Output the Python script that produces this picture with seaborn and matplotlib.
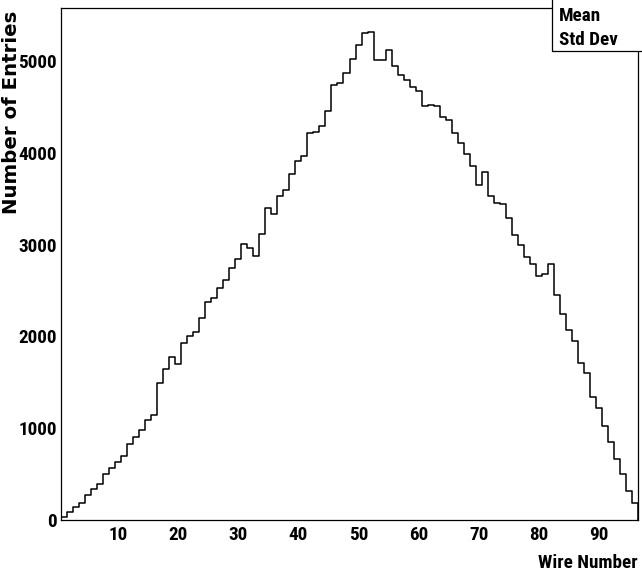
import numpy as np
import pandas as pd
import seaborn as sns
import matplotlib
matplotlib.use("Agg")
import matplotlib.pyplot as plt
from matplotlib.patches import Rectangle
from matplotlib.ticker import MultipleLocator
from matplotlib import font_manager
from matplotlib.font_manager import FontProperties
from matplotlib.textpath import TextPath

# Wire-by-wire hit counts (wires 1..96)
wires = list(range(1, 97))
counts = [
    36, 91, 138, 189, 273, 336, 392, 500, 563, 636,
    698, 825, 908, 981, 1090, 1145, 1496, 1645, 1772, 1696,
    1931, 2004, 2051, 2197, 2378, 2422, 2531, 2614, 2748, 2843,
    3003, 2966, 2879, 3119, 3395, 3340, 3533, 3599, 3770, 3912,
    3962, 4213, 4228, 4297, 4453, 4737, 4762, 4871, 5027, 5176,
    5303, 5314, 5016, 5016, 5122, 4943, 4845, 4798, 4714, 4678,
    4511, 4522, 4507, 4392, 4356, 4213, 4105, 3985, 3853, 3646,
    3795, 3526, 3460, 3446, 3290, 3108, 3002, 2871, 2788, 2661,
    2683, 2788, 2454, 2243, 2072, 1952, 1716, 1600, 1345, 1225,
    1029, 847, 662, 498, 316, 182,
]
x_ticks = [10, 20, 30, 40, 50, 60, 70, 80, 90]
y_ticks = [0, 1000, 2000, 3000, 4000, 5000]
x_title = "Wire Number"
y_title = "Number of Entries"
stats_labels = ["Mean", "Std Dev"]

sns.set_style("white")
plt.rcParams["font.family"] = ["Liberation Sans", "DejaVu Sans"]
plt.rcParams["text.color"] = "black"


def pick_condensed_bold():
    """Find a narrow/condensed bold sans face, falling back to Liberation Sans Bold."""
    prefs = ["liberation sans narrow", "roboto condensed", "noto sans",
             "open sans", "dejavu sans"]
    found = []
    for f in font_manager.fontManager.ttflist:
        fname = f.fname.lower()
        narrowish = ("narrow" in fname or "condensed" in fname
                     or f.stretch in ("condensed", "semi-condensed"))
        if not narrowish or "extra" in fname or "ultra" in fname or "semi" in fname:
            continue
        if "italic" in fname or "oblique" in fname:
            continue
        w = f.weight if isinstance(f.weight, int) else 400
        if w < 600 and "bold" not in fname:
            continue
        name = f.name.lower()
        rank = next((i for i, p in enumerate(prefs) if name.startswith(p)), len(prefs))
        found.append((rank, f.fname))
    if found:
        found.sort()
        return FontProperties(fname=found[0][1])
    return FontProperties(family="Liberation Sans", weight="bold")


def ink(prop, text):
    ext = TextPath((0, 0), text, size=10, prop=prop).get_extents()
    return ext.width, ext.height


def px_to_pt(px):
    return px * 72 / 100


lab_fp = pick_condensed_bold()
w10, h10 = ink(lab_fp, "5000")
tick_size = min(10 * px_to_pt(14) / h10, 10 * px_to_pt(38) / w10)

title_fp = FontProperties(family="DejaVu Sans", weight="bold")
tw10, _ = ink(title_fp, y_title)
ytitle_size = min(10 * px_to_pt(200) / tw10, 15)

df = pd.DataFrame({"wire": wires, "entries": counts})
lo, hi = wires[0] - 0.5, wires[-1] + 0.5

W, H = 642, 580
fig = plt.figure(figsize=(W / 100, H / 100), dpi=100)
ax = fig.add_axes([61 / W, 60 / H, (638 - 61) / W, (520 - 8) / H])

sns.histplot(data=df, x="wire", weights="entries", binwidth=1, binrange=(lo, hi),
             element="step", fill=False, color="black", linewidth=1.1, ax=ax)
# close the outline down to the baseline at both ends
ax.vlines([lo, hi], 0, [counts[0], counts[-1]], color="black", linewidth=1.1)

ax.set_xlim(lo, hi)
ax.set_ylim(0, max(counts) * 1.05)

ax.set_xticks(x_ticks)
ax.set_yticks(y_ticks)
ax.xaxis.set_minor_locator(MultipleLocator(2))
ax.yaxis.set_minor_locator(MultipleLocator(200))
ax.tick_params(axis="x", which="major", direction="in", length=10, width=0.9,
               color="#444444", labelcolor="black", pad=4)
ax.tick_params(axis="x", which="minor", direction="in", length=5, width=0.9,
               color="#444444")
ax.tick_params(axis="y", which="major", direction="in", length=13, width=0.9,
               color="#444444", labelcolor="black", pad=3)
ax.tick_params(axis="y", which="minor", direction="in", length=6.5, width=0.9,
               color="#444444")
for lab in ax.get_xticklabels() + ax.get_yticklabels():
    lab.set_fontproperties(lab_fp)
    lab.set_fontsize(tick_size)

for s in ax.spines.values():
    s.set_visible(True)
    s.set_color("black")
    s.set_linewidth(0.9)

ax.set_xlabel("")
ax.set_ylabel("")
fig.text(638 / W, 1 - 568 / H, x_title, ha="right", va="baseline",
         fontproperties=lab_fp, fontsize=tick_size)
fig.text(17 / W, 1 - 11 / H, y_title, ha="right", va="baseline", rotation=90,
         rotation_mode="anchor", fontproperties=title_fp, fontsize=ytitle_size)

# statistics box in the upper right corner
fig.patches.append(Rectangle((552 / W, 1 - 51 / H), 100 / W, 60 / H,
                             transform=fig.transFigure, facecolor="white",
                             edgecolor="black", linewidth=0.9, zorder=5))
for i, lab in enumerate(stats_labels):
    fig.text(559 / W, 1 - (21 + 24 * i) / H, lab, ha="left", va="baseline",
             fontproperties=lab_fp, fontsize=tick_size, zorder=6)

fig.savefig("out.png", dpi=100, facecolor="white")
